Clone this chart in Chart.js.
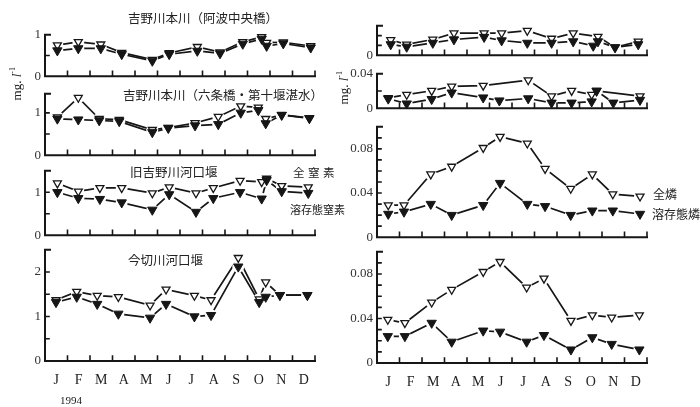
<!DOCTYPE html>
<html><head><meta charset="utf-8">
<script src="https://cdn.jsdelivr.net/npm/chart.js@4.4.0/dist/chart.umd.min.js"></script>
<style>
html,body{margin:0;padding:0;background:#fff;}
#wrap{position:relative;width:700px;height:407px;overflow:hidden;background:#fff;}
canvas{position:absolute;}
.t{position:absolute;white-space:nowrap;font-family:"Noto Sans CJK JP";color:#222;line-height:1;}
.s{position:absolute;white-space:nowrap;font-family:"Liberation Serif";color:#222;line-height:1;}
</style></head><body><div id="wrap"></div>
<script>
// ---------- data ----------
const months = ['J','F','M','A','M','J','J','A','S','O','N','D'];
// sampling dates expressed as month position (0 = start of Jan, 12 = end of Dec)
const awaDates = [0.55,1.48,2.48,3.41,4.77,5.52,6.77,7.78,8.79,9.63,9.85,10.59,11.81];
const awaTN    = [0.75,0.83,0.77,0.57,0.40,0.56,0.71,0.58,0.83,0.95,0.81,0.82,0.73];
const awaDN    = [0.62,0.67,0.67,0.53,0.37,0.53,0.61,0.55,0.78,0.90,0.73,0.79,0.69];

const rokuDates = [0.55,1.48,2.41,3.30,4.77,5.48,6.67,7.70,8.70,9.48,9.81,10.52,11.75];
const rokuTN    = [0.90,1.36,0.86,0.84,0.60,0.65,0.76,0.91,1.16,1.13,0.86,0.95,0.88];
const rokuDN    = [0.86,0.84,0.82,0.80,0.54,0.64,0.70,0.73,1.00,1.06,0.75,0.95,0.87];

const kyuDates = [0.55,1.48,2.44,3.41,4.77,5.52,6.71,7.48,8.67,9.63,9.85,10.52,11.70];
const kyuTN    = [1.21,1.02,1.10,1.10,0.98,1.12,0.98,1.10,1.27,1.24,1.32,1.15,1.12];
const kyuDN    = [1.00,0.86,0.84,0.76,0.59,0.95,0.54,0.86,1.00,0.85,1.28,1.02,0.98];

const imaDates = [0.49,1.41,2.32,3.26,4.67,5.38,6.64,7.38,8.59,9.52,9.81,10.44,11.66];
const imaTN    = [1.37,1.56,1.47,1.44,1.25,1.61,1.47,1.37,2.32,1.39,1.77,1.48,1.48];
const imaDN    = [1.32,1.44,1.28,1.06,0.97,1.28,1.00,1.03,2.12,1.32,1.44,1.48,1.48];

const awaPDates = [0.61,1.32,2.48,3.42,4.76,5.54,6.68,7.76,8.72,9.61,9.82,10.58,11.61];
const awaTP     = [0.0155,0.011,0.016,0.0225,0.0225,0.0225,0.025,0.017,0.0225,null,0.019,0.008,0.014];
const awaDP     = [0.011,0.0085,0.0125,0.016,0.0185,0.015,0.0125,0.0125,0.014,0.0095,0.014,0.008,0.011];

const rokuPDates = [0.50,1.32,2.43,3.32,4.72,5.44,6.72,7.76,8.65,9.54,9.76,10.50,11.69];
const rokuTP     = [0.012,0.0158,0.0203,0.0253,0.0263,null,0.0326,0.014,0.0203,0.0158,0.020,null,0.014];
const rokuDP     = [0.011,0.0053,0.0105,0.018,0.0123,0.0088,0.0113,0.0063,0.0063,0.0077,0.0203,0.0063,0.0095];

const kyuPDates = [0.50,1.20,2.39,3.32,4.72,5.47,6.68,7.47,8.61,9.57,10.48,11.69];
const kyuTP     = [0.029,0.029,0.057,0.064,0.081,0.091,0.085,0.062,0.044,0.057,0.039,0.037];
const kyuDP     = [0.021,0.023,0.030,0.020,0.029,0.049,0.030,0.028,0.020,0.024,0.024,0.021];

const imaPDates = [0.48,1.24,2.43,3.32,4.72,5.47,6.65,7.42,8.62,9.57,10.43,11.66];
const imaTP     = [0.039,0.036,0.0545,0.066,0.082,0.091,0.068,0.076,0.038,0.043,0.041,0.043];
const imaDP     = [0.024,0.024,0.036,0.019,0.029,0.028,0.019,0.025,0.012,0.023,0.017,0.012];

const titles = ['吉野川本川（阿波中央橋）','吉野川本川（六条橋・第十堰湛水）','旧吉野川河口堰','今切川河口堰'];

// ---------- layout ----------
const panels = [
  {dates:awaDates, total:awaTN, diss:awaDN, max:1.0, minor:[0.5], labels:[0,1], box:[45,33,315,78]},
  {dates:rokuDates, total:rokuTN, diss:rokuDN, max:1.45, minor:[0.5,1], labels:[0,1], box:[45,92,315,157]},
  {dates:kyuDates, total:kyuTN, diss:kyuDN, max:1.5, minor:[0.5,1], labels:[0,1], box:[45,168.5,315,236]},
  {dates:imaDates, total:imaTN, diss:imaDN, max:2.5, minor:[0.5,1,1.5,2], labels:[0,1,2], box:[45,247.5,315,360], showMonths:true},
  {dates:awaPDates, total:awaTP, diss:awaDP, max:0.03, minor:[0.01,0.02], labels:[0], box:[377,24,647,57]},
  {dates:rokuPDates, total:rokuTP, diss:rokuDP, max:0.04, minor:[0.02], labels:[0,0.04], box:[377,72,647,110]},
  {dates:kyuPDates, total:kyuTP, diss:kyuDP, max:0.1, minor:[0.01,0.02,0.03,0.04,0.05,0.06,0.07,0.08,0.09], labels:[0,0.04,0.08], box:[377,124.5,647,238]},
  {dates:imaPDates, total:imaTP, diss:imaDP, max:0.1, minor:[0.01,0.02,0.03,0.04,0.05,0.06,0.07,0.08,0.09], labels:[0,0.04,0.08], box:[377,250,647,363], showMonths:true}
];

const wrap = document.getElementById('wrap');
const INK = '#161616';
const fmt = v => v === 0 ? '0' : (Number.isInteger(v) ? String(v) : v.toFixed(2));

function makeChart(p){
  const padL = 40, padR = 12, padT = 10, padB = p.showMonths ? 32 : 10;
  const [l,t,r,b] = p.box;
  const W = Math.round(padL + (r-l) + padR), H = Math.round(padT + (b-t) + padB);
  const c = document.createElement('canvas');
  c.width = W; c.height = H;
  c.style.left = (l-padL)+'px'; c.style.top = (t-padT)+'px';
  c.style.width = W+'px'; c.style.height = H+'px';
  wrap.appendChild(c);
  const pts = vals => p.dates.map((d,i)=>({x:d,y:vals[i]})).filter(o=>o.y!==null);
  const lineDs = vals => ({data:pts(vals), borderColor:INK, borderWidth:1.7, pointRadius:0, tension:0, fill:false, order:3, clip:false});
  const haloDs = vals => ({data:pts(vals), showLine:false, pointStyle:'circle', pointRadius:6, pointBackgroundColor:'#fff', pointBorderWidth:0, order:2, clip:false});
  const axesPlugin = {
    id:'axes',
    afterDatasetsDraw(chart){
      const ctx = chart.ctx, xs = chart.scales.x, ys = chart.scales.y;
      const x0 = xs.getPixelForValue(0), x1 = xs.getPixelForValue(12);
      const y0 = ys.getPixelForValue(0), yt = ys.getPixelForValue(p.max);
      ctx.save();
      ctx.strokeStyle = INK; ctx.lineCap = 'square';
      ctx.lineWidth = 2;
      ctx.beginPath();
      ctx.moveTo(x0, yt); ctx.lineTo(x0, y0); ctx.lineTo(x1, y0);
      ctx.moveTo(x0, yt); ctx.lineTo(x0+5, yt);
      ctx.stroke();
      ctx.lineWidth = 1.6;
      ctx.beginPath();
      p.minor.forEach(v=>{ const y = ys.getPixelForValue(v); ctx.moveTo(x0, y); ctx.lineTo(x0+4, y); });
      for (let m=1; m<=12; m++){ const x = xs.getPixelForValue(m); ctx.moveTo(x, y0); ctx.lineTo(x, y0-5); }
      ctx.stroke();
      ctx.restore();
    }
  };
  new Chart(c, {
    type:'line',
    data:{datasets:[
      lineDs(p.total), lineDs(p.diss),
      haloDs(p.total), haloDs(p.diss),
      {data:pts(p.total), showLine:false, pointStyle:'triangle', pointRotation:180, pointRadius:4.6, pointBackgroundColor:'#fff', pointBorderColor:INK, pointBorderWidth:1.3, order:1, clip:false},
      {data:pts(p.diss), showLine:false, pointStyle:'triangle', pointRotation:180, pointRadius:5.4, pointBackgroundColor:INK, pointBorderColor:INK, pointBorderWidth:1, order:0, clip:false}
    ]},
    options:{
      responsive:false, animation:false, devicePixelRatio:1,
      events:[],
      layout:{autoPadding:false, padding:{left:0,right:padR,top:padT,bottom:0}},
      plugins:{legend:{display:false}, tooltip:{enabled:false}},
      scales:{
        x:{type:'linear', min:0, max:12,
           afterFit:s=>{ s.height = padB; },
           afterBuildTicks:s=>{ s.ticks = months.map((m,i)=>({value:i+0.5})); },
           grid:{display:false, drawTicks:false}, border:{display:false},
           ticks:{display:!!p.showMonths, autoSkip:false, maxRotation:0, padding:11,
                  callback:(v,i)=>months[i], color:'#222',
                  font:{family:'Liberation Serif', size:14}}},
        y:{type:'linear', min:0, max:p.max,
           afterFit:s=>{ s.width = padL; },
           afterBuildTicks:s=>{ s.ticks = p.labels.map(v=>({value:v})); },
           grid:{display:false, drawTicks:false}, border:{display:false},
           ticks:{padding:4, callback:v=>fmt(v), color:'#333',
                  font:{family:'Liberation Serif', size:13}}}
      }
    },
    plugins:[axesPlugin]
  });
}
panels.forEach(makeChart);

// ---------- texts ----------
function addText(cls, txt, left, cy, size, extra){
  const d = document.createElement('div');
  d.className = cls; d.innerHTML = txt;
  d.style.left = left+'px'; d.style.top = (cy - size/2)+'px'; d.style.fontSize = size+'px';
  if (extra) Object.assign(d.style, extra);
  wrap.appendChild(d);
  return d;
}
addText('t', titles[0], 128, 18, 12.5);
addText('t', titles[1], 123, 95, 12.5);
addText('t', titles[2], 130, 172, 12.5);
addText('t', titles[3], 128, 260, 12.5);
addText('t', '全窒素', 293, 173, 11.5, {letterSpacing:'3.5px'});
addText('t', '溶存態窒素', 290, 209, 11);
addText('t', '全燐', 653, 194, 12);
addText('t', '溶存態燐', 652, 214, 12);
addText('s', '1994', 60, 400, 11);
function yLabel(cx, cy){
  const d = addText('s', 'mg. <i>l</i><sup style="font-size:8px">-1</sup>', cx-25, cy, 13,
    {width:'50px', textAlign:'center', transform:'rotate(-90deg)', transformOrigin:'50% 50%'});
}
yLabel(16, 83);
yLabel(343, 87);
</script>
</body></html>
